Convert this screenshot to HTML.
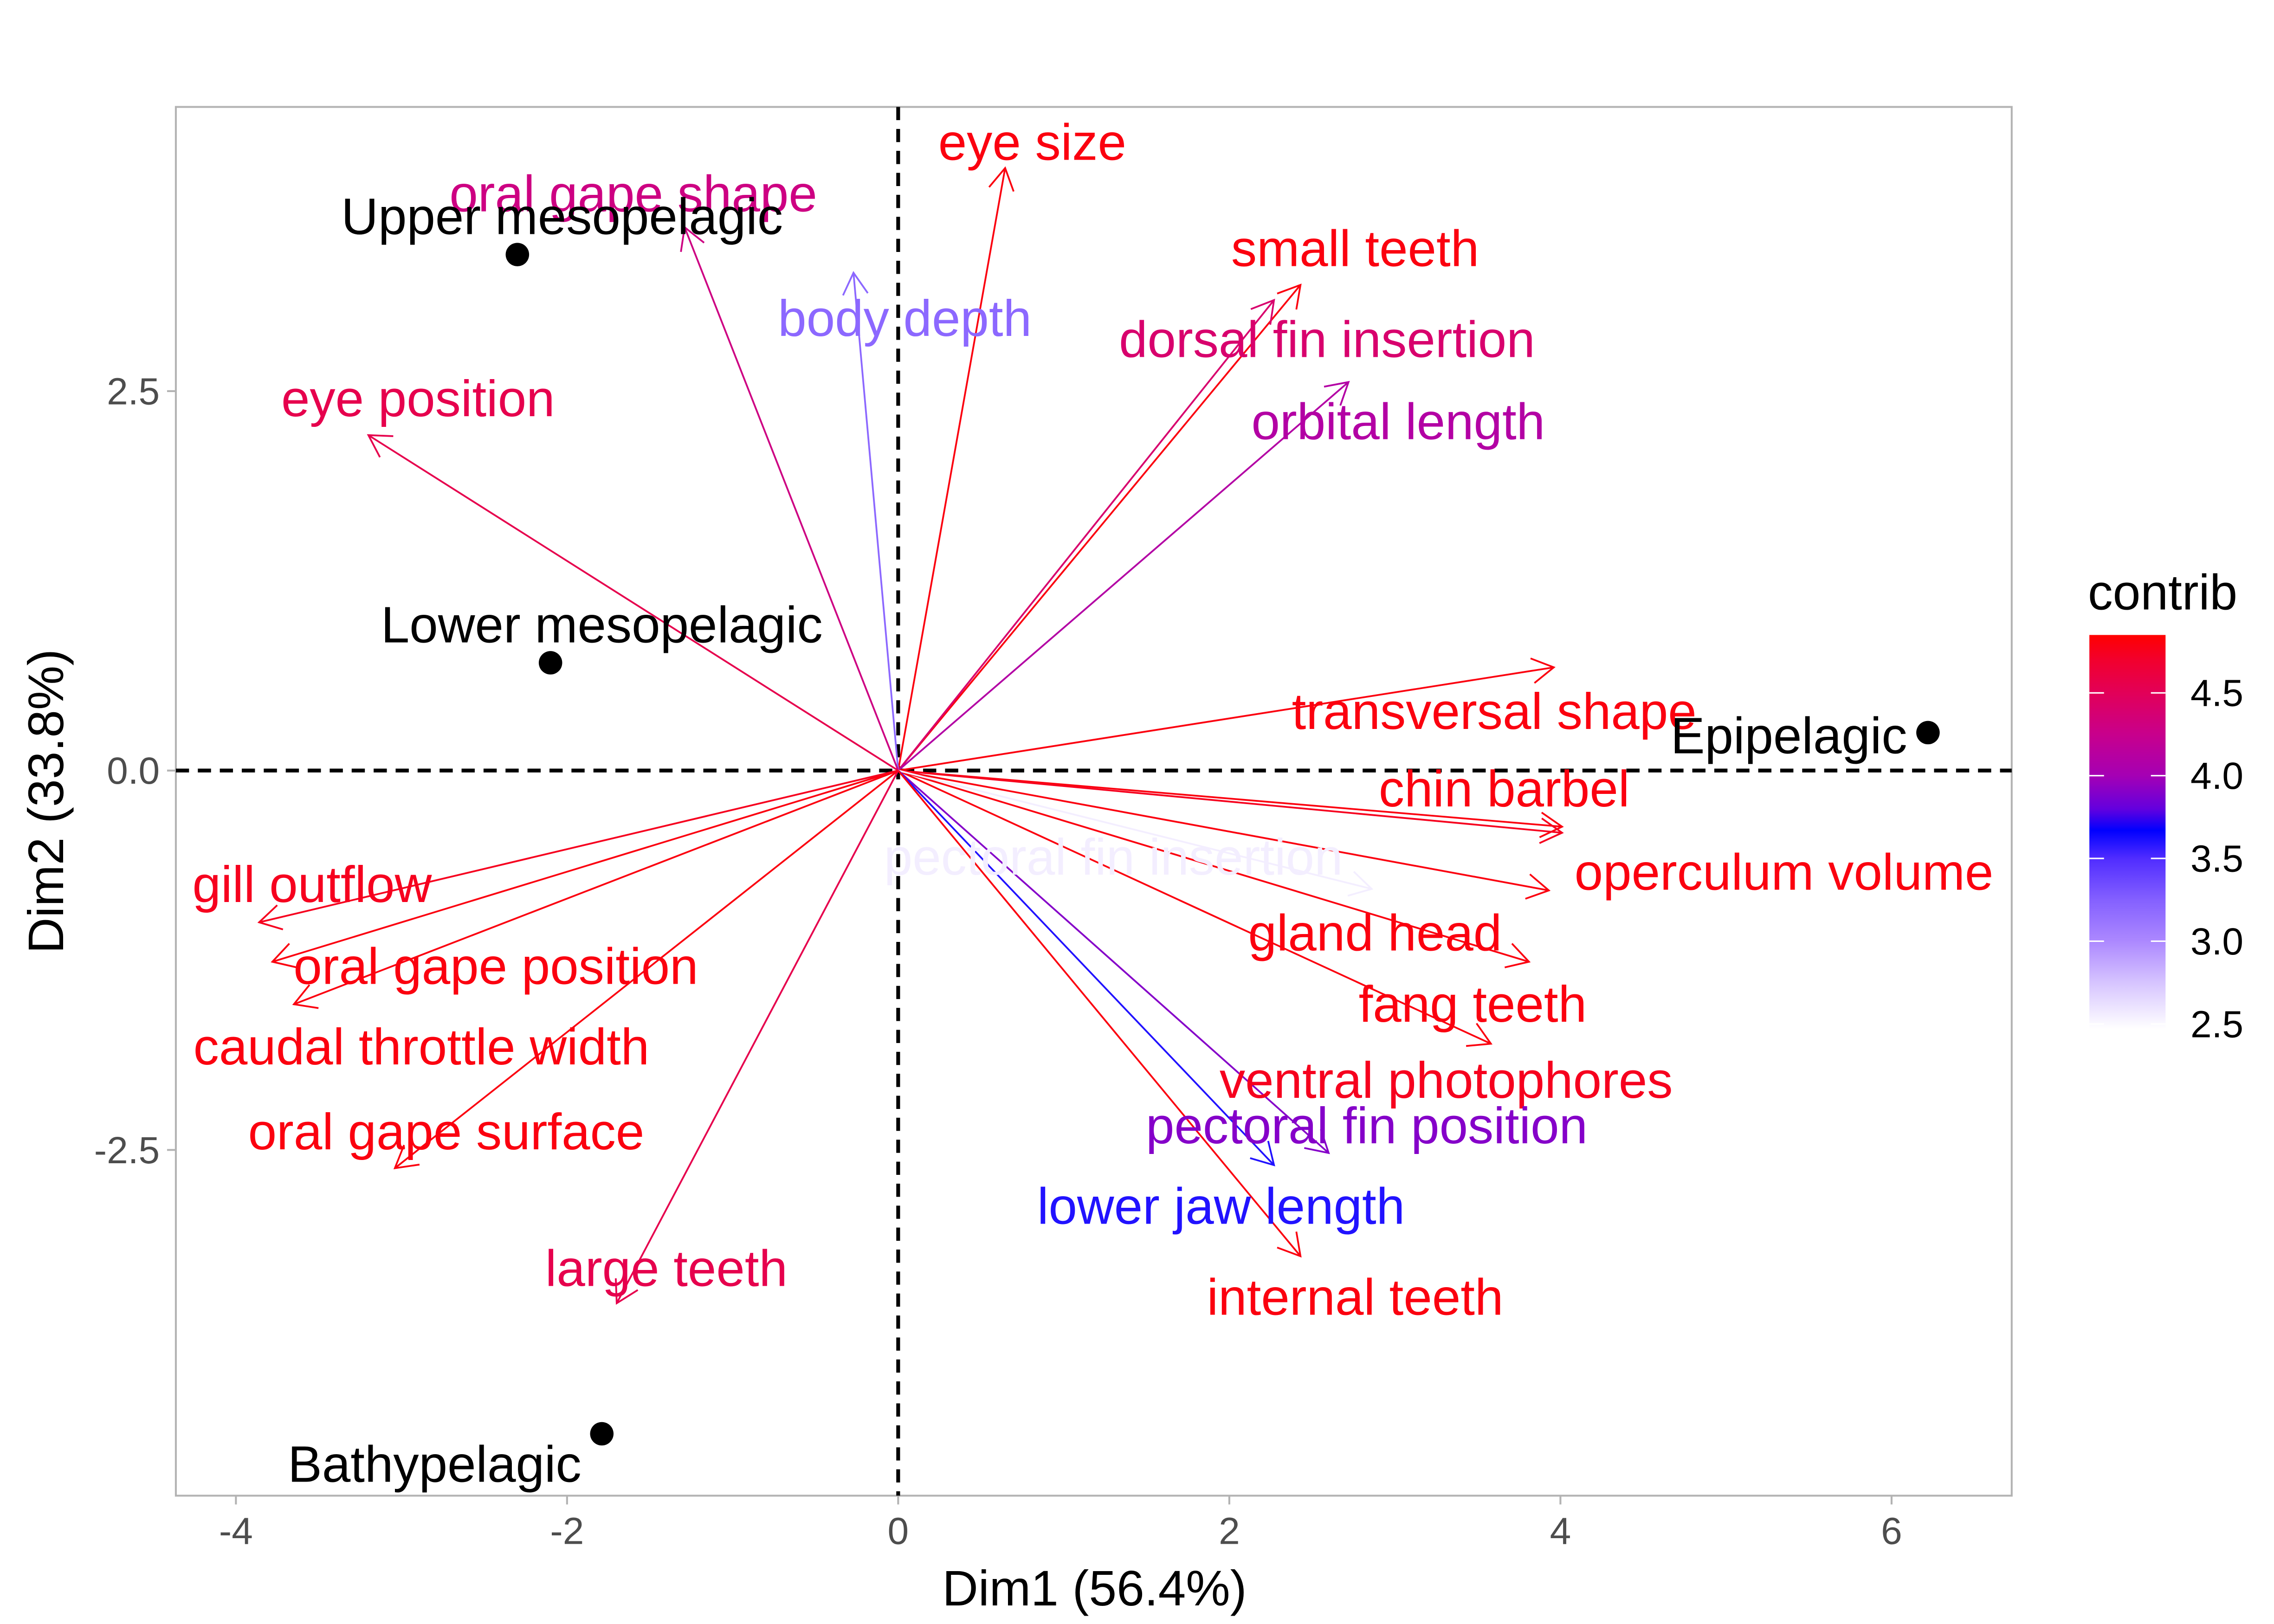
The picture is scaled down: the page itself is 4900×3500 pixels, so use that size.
<!DOCTYPE html>
<html><head><meta charset="utf-8"><style>
html,body{margin:0;padding:0;background:#fff;}
svg{display:block;font-family:"Liberation Sans",sans-serif;}
</style></head><body>
<svg id="chart" width="4900" height="3500" viewBox="0 0 1552 1108.6" xmlns="http://www.w3.org/2000/svg">
<defs>
<linearGradient id="cgrad" x1="0" y1="1" x2="0" y2="0"></linearGradient>
</defs>
<rect x="0" y="0" width="1552" height="1108.6" fill="#fff"/>
<g id="plot"></g>
</svg>
<script>
const varNames=["eye size","small teeth","dorsal fin insertion","orbital length","body depth","oral gape shape","eye position","transversal shape","chin barbel","ventral photophores","operculum volume","gland head","fang teeth","pectoral fin insertion","pectoral fin position","lower jaw length","internal teeth","large teeth","oral gape surface","caudal throttle width","oral gape position","gill outflow"];
const varX=[0.646,2.43,2.27,2.72,-0.27,-1.29,-3.20,3.96,4.01,4.01,3.93,3.81,3.58,2.86,2.60,2.27,2.43,-1.70,-3.04,-3.65,-3.78,-3.86];
const varY=[3.97,3.20,3.10,2.56,3.28,3.58,2.21,0.68,-0.37,-0.41,-0.79,-1.26,-1.80,-0.78,-2.52,-2.60,-3.20,-3.51,-2.62,-1.54,-1.26,-1.00];
const varContrib=[4.8,4.8,4.4,4.1,3.2,4.3,4.55,4.8,4.8,4.75,4.8,4.8,4.8,2.55,3.9,3.6,4.8,4.55,4.8,4.8,4.8,4.75];
const labelX=[0.81,2.76,2.59,3.02,0.04,-1.60,-2.90,3.6,3.66,3.31,5.35,2.88,3.47,1.30,2.83,1.95,2.76,-1.40,-2.73,-2.88,-2.43,-3.54];
const labelY=[4.14,3.44,2.84,2.30,2.98,3.80,2.45,0.39,-0.12,-2.04,-0.67,-1.07,-1.54,-0.57,-2.34,-2.87,-3.47,-3.28,-2.38,-1.82,-1.29,-0.75];
const indNames=["Upper mesopelagic","Lower mesopelagic","Bathypelagic","Epipelagic"];
const indX=[-2.30,-2.10,-1.79,6.22];
const indY=[3.40,0.71,-4.37,0.25];
const indLabelX=[-2.03,-1.79,-2.80,5.38];
const indLabelY=[3.65,0.96,-4.57,0.23];
const xTicks=[-4,-2,0,2,4,6];
const yTicks=[-2.5,0.0,2.5];
const legendTicks=[2.5,3.0,3.5,4.0,4.5];

const L=120,R=1373,T=73,B=1021;
const sx=v=>613+v*113;
const sy=v=>526-v*103.6;
const cLow=2.47,cHigh=4.85;
const stops=[[2.47,[255,255,255]],[2.75,[214,196,255]],[3.0,[172,136,255]],[3.25,[132,96,255]],[3.5,[80,44,255]],[3.67,[0,0,255]],[3.8,[100,0,222]],[4.0,[165,0,180]],[4.25,[200,0,140]],[4.5,[226,0,88]],[4.7,[242,0,45]],[4.85,[255,0,0]]];
function col(v){
 if(v<=stops[0][0])return 'rgb(255,255,255)';
 for(let i=1;i<stops.length;i++){if(v<=stops[i][0]){const a=stops[i-1],b=stops[i];const t=(v-a[0])/(b[0]-a[0]);
  return 'rgb('+a[1].map((x,k)=>Math.round(x+(b[1][k]-x)*t)).join(',')+')';}}
 return 'rgb(255,0,0)';}
const NS="http://www.w3.org/2000/svg";
const grad=document.getElementById('cgrad');
stops.forEach(s=>{const e=document.createElementNS(NS,'stop');e.setAttribute('offset',(s[0]-cLow)/(cHigh-cLow));e.setAttribute('stop-color','rgb('+s[1].join(',')+')');grad.appendChild(e);});
const g=document.getElementById('plot');
function mk(tag,attrs,parent){const e=document.createElementNS(NS,tag);for(const k in attrs)e.setAttribute(k,attrs[k]);(parent||g).appendChild(e);return e;}

const panel=mk('rect',{x:L,y:T,width:R-L,height:B-T,fill:'none',stroke:'#b3b3b3','stroke-width':1.3});



const vl=mk('line',{x1:sx(0),x2:sx(0),y1:T,y2:B,stroke:'#000','stroke-width':2.6,'stroke-dasharray':'9,6'});


const hl=mk('line',{x1:L,x2:R,y1:sy(0),y2:sy(0),stroke:'#000','stroke-width':2.6,'stroke-dasharray':'9,6'});



xTicks.forEach(v=>{
 const t=mk('line',{x1:sx(v),x2:sx(v),y1:B,y2:B+6,stroke:'#b3b3b3','stroke-width':1.3});
 
 
 const tx=mk('text',{x:sx(v),y:B+33,'text-anchor':'middle','font-size':26,fill:'#4d4d4d'});
 tx.textContent=v;
 
 
});
yTicks.forEach(v=>{
 const t=mk('line',{x1:L-6,x2:L,y1:sy(v),y2:sy(v),stroke:'#b3b3b3','stroke-width':1.3});
 
 
 const tx=mk('text',{x:L-11,y:sy(v)+9,'text-anchor':'end','font-size':26,fill:'#4d4d4d'});
 tx.textContent=v.toFixed(1);
 
 
});
const xt=mk('text',{x:747,y:1096,'text-anchor':'middle','font-size':34,fill:'#000'});
xt.textContent='Dim1 (56.4%)';


const yt=mk('text',{x:0,y:0,'text-anchor':'middle','font-size':34,fill:'#000',transform:`translate(43,547) rotate(-90)`});
yt.textContent='Dim2 (33.8%)';



varNames.forEach((n,i)=>{
 const c=col(varContrib[i]);
 const x0=sx(0),y0=sy(0),x1=sx(varX[i]),y1=sy(varY[i]);
 const ag=mk('g',{});
 
 
 mk('line',{x1:x0,y1:y0,x2:x1,y2:y1,stroke:c,'stroke-width':1.2},ag);
 const ang=Math.atan2(y1-y0,x1-x0),len=17,sp=Math.PI/6;
 const p1=[x1-len*Math.cos(ang-sp),y1-len*Math.sin(ang-sp)];
 const p2=[x1-len*Math.cos(ang+sp),y1-len*Math.sin(ang+sp)];
 mk('polyline',{points:`${p1.join(',')} ${x1},${y1} ${p2.join(',')}`,fill:'none',stroke:c,'stroke-width':1.2},ag);
});
varNames.forEach((n,i)=>{
 const t=mk('text',{x:sx(labelX[i]),y:sy(labelY[i])+12,'text-anchor':'middle','font-size':35,fill:col(varContrib[i])});
 t.textContent=n;
 
 
});
indNames.forEach((n,i)=>{
 const p=mk('circle',{cx:sx(indX[i]),cy:sy(indY[i]),r:8,fill:'#000'});
 
 
 const t=mk('text',{x:sx(indLabelX[i]),y:sy(indLabelY[i])+12,'text-anchor':'middle','font-size':35,fill:'#000'});
 t.textContent=n;
 
 
});

const lg=mk('g',{});


const lt=mk('text',{x:1425,y:416,'font-size':34,fill:'#000'},lg);
lt.textContent='contrib';


const ly=v=>473-(v-4.5)*113;
const cb=mk('rect',{x:1426,y:ly(cHigh),width:52,height:ly(cLow)-ly(cHigh),fill:'url(#cgrad)'},lg);


legendTicks.forEach(v=>{
 mk('line',{x1:1426,x2:1436,y1:ly(v),y2:ly(v),stroke:'#fff','stroke-width':1},lg);
 mk('line',{x1:1468,x2:1478,y1:ly(v),y2:ly(v),stroke:'#fff','stroke-width':1},lg);
 const t=mk('text',{x:1495,y:ly(v)+9,'font-size':26,fill:'#000'},lg);
 t.textContent=v.toFixed(1);
 
 
});
</script>
</body></html>
